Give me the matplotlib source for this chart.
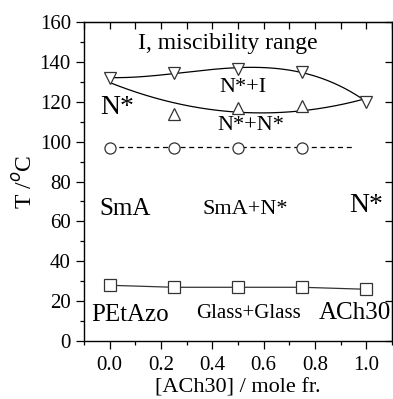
import numpy as np
import matplotlib.pyplot as plt
from matplotlib.ticker import MultipleLocator

plt.rcParams['font.family'] = ['Liberation Serif', 'DejaVu Serif']
plt.rcParams['mathtext.fontset'] = 'custom'
plt.rcParams['mathtext.rm'] = 'Liberation Serif'

# phase diagram PEtAzo / ACh30
x_ni = [0.0, 0.25, 0.5, 0.75, 1.0]
t_ni_upper = [132, 134.5, 136.5, 135, 120]   # N* -> I (clearing)
x_nn = [0.25, 0.5, 0.75]
t_nn_lower = [114, 117, 118]                 # N*+N* boundary
x_sma = [0.0, 0.25, 0.5, 0.75]
t_sma = [97, 97, 97, 97]
x_glass = [0.0, 0.25, 0.5, 0.75, 1.0]
t_glass = [28, 27, 27, 27, 26]

fig = plt.figure(figsize=(3.93, 3.99), dpi=100)
ax = fig.add_axes([0.214, 0.145, 0.783, 0.80])

# smooth boundaries (polynomial fits)
xs = np.linspace(0, 1, 200)
p_up = np.polyfit(x_ni, t_ni_upper, 3)
ax.plot(xs, np.polyval(p_up, xs), color='black', lw=0.9)
x_low = [x_ni[0]] + x_nn + [x_ni[-1]]
t_low = [t_ni_upper[0]] + t_nn_lower + [t_ni_upper[-1]]
p_low = np.polyfit(x_low, t_low, 2)
ax.plot(xs, np.polyval(p_low, xs), color='black', lw=0.9)

ax.plot(x_ni, t_ni_upper, linestyle='none', marker='v', ms=8, mfc='white', mec='#333333', mew=0.9)
ax.plot(x_nn, t_nn_lower, linestyle='none', marker='^', ms=8, mfc='white', mec='#333333', mew=0.9)

# SmA line
xd = np.linspace(0, 0.95, 50)
p_s = np.polyfit(x_sma, t_sma, 1)
ax.plot(xd, np.polyval(p_s, xd) + 0.4, color='black', lw=0.9, ls=(0, (4, 3)))
ax.plot(x_sma, t_sma, linestyle='none', marker='o', ms=8, mfc='white', mec='#333333', mew=0.9)

# glass transition
ax.plot(x_glass, t_glass, color='#333333', lw=0.9, marker='s', ms=8, mfc='white', mec='#333333', mew=0.9)

ax.set_xlim(-0.1, 1.1)
ax.set_ylim(0, 160)
ax.xaxis.set_major_locator(MultipleLocator(0.2))
ax.xaxis.set_minor_locator(MultipleLocator(0.1))
ax.yaxis.set_major_locator(MultipleLocator(20))
ax.yaxis.set_minor_locator(MultipleLocator(10))
ax.xaxis.set_major_formatter(plt.FuncFormatter(lambda v, p: f'{v:.1f}'))
ax.tick_params(which='major', direction='out', length=6, width=0.9, labelsize=15)
ax.tick_params(axis='x', which='major', pad=5)
ax.tick_params(which='minor', direction='out', length=3, width=0.9)
for s in ax.spines.values():
    s.set_linewidth(1.0)

top = ax.secondary_xaxis('top')
top.xaxis.set_major_locator(MultipleLocator(0.1))
top.tick_params(direction='in', length=5, width=0.9, labeltop=False)
right = ax.secondary_yaxis('right')
right.yaxis.set_major_locator(MultipleLocator(20))
right.tick_params(direction='in', length=5, width=0.9, labelright=False)

ax.set_xlabel('[ACh30] / mole fr.', fontsize=16, labelpad=2)
ax.set_ylabel('T /$^o$C', fontsize=17, labelpad=2)

ax.text(0.46, 149, 'I, miscibility range', fontsize=17, ha='center', va='center')
ax.text(0.52, 127, 'N*+I', fontsize=16, ha='center', va='center')
ax.text(0.55, 108, 'N*+N*', fontsize=16, ha='center', va='center')
ax.text(0.03, 117, 'N*', fontsize=20, ha='center', va='center')
ax.text(0.06, 66, 'SmA', fontsize=18, ha='center', va='center')
ax.text(0.53, 66, 'SmA+N*', fontsize=16, ha='center', va='center')
ax.text(1.0, 68, 'N*', fontsize=20, ha='center', va='center')
ax.text(0.08, 13, 'PEtAzo', fontsize=18, ha='center', va='center')
ax.text(0.54, 14, 'Glass+Glass', fontsize=15, ha='center', va='center')
ax.text(0.955, 14, 'ACh30', fontsize=18, ha='center', va='center')

fig.savefig('out.png', dpi=100)
